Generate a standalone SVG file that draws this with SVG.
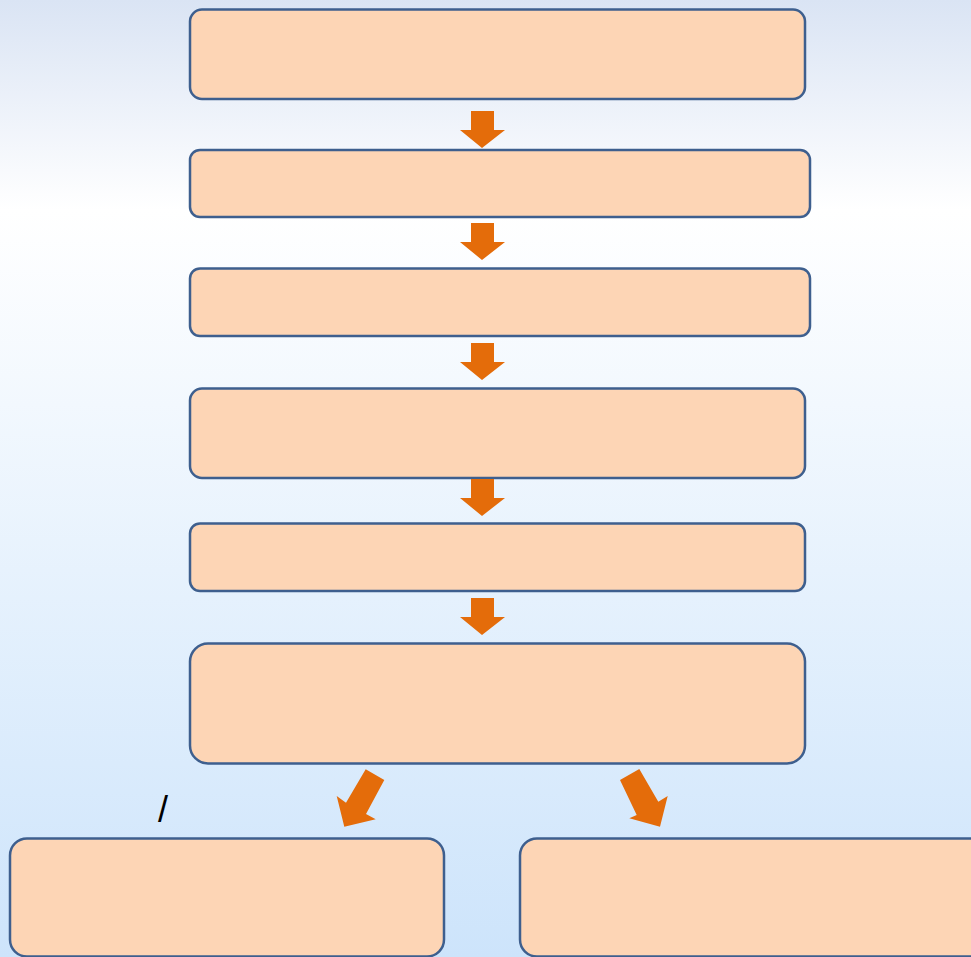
<svg xmlns="http://www.w3.org/2000/svg" width="971" height="957" viewBox="0 0 971 957">
  <defs>
    <linearGradient id="bg" x1="0" y1="0" x2="0" y2="1">
      <stop offset="0" stop-color="#dae4f4"/>
      <stop offset="0.22" stop-color="#ffffff"/>
      <stop offset="1" stop-color="#cde4fb"/>
    </linearGradient>
    <path id="down" d="M471,111 H494 V130 H505 L482,148 L460,130 H471 Z"/>
  </defs>
  <style>
    .box { fill: #fdd5b5; stroke: #3e5f8e; stroke-width: 2.5; }
    .arr { fill: #e46c0a; }
    .lbl { font-family: "Liberation Sans", Arial, sans-serif; font-size: 36px; fill: #000; }
  </style>
  <rect x="0" y="0" width="971" height="957" fill="url(#bg)"/>
  <g id="node1"><rect class="box" x="190" y="9.5" width="615" height="89.5" rx="12"/></g>
  <g id="node2"><rect class="box" x="190" y="150" width="620" height="67" rx="10"/></g>
  <g id="node3"><rect class="box" x="190" y="268.5" width="620" height="67.5" rx="10"/></g>
  <g id="node4"><rect class="box" x="190" y="388.5" width="615" height="89.5" rx="12"/></g>
  <g id="node5"><rect class="box" x="190" y="523.5" width="615" height="67.5" rx="10"/></g>
  <g id="node6"><rect class="box" x="190" y="643.5" width="615" height="120" rx="18"/></g>
  <g id="node7"><rect class="box" x="10" y="838.5" width="434" height="118" rx="17"/></g>
  <g id="node8"><rect class="box" x="520" y="838.5" width="470" height="118" rx="17"/></g>
  <g id="connectors">
    <use href="#down" class="arr"/>
    <use href="#down" class="arr" transform="translate(0,112)"/>
    <use href="#down" class="arr" transform="translate(0,232)"/>
    <use href="#down" class="arr" transform="translate(0,368)"/>
    <use href="#down" class="arr" transform="translate(0,487)"/>
    <path class="arr" d="M365.7,769.3 L384.3,780 L366,814 L375.7,819.3 L344.3,826.7 L336.7,796 L346,802.7 Z"/>
    <path class="arr" d="M639.3,769 L620,780 L636.7,815 L629.3,818.3 L660,826.7 L667.7,796 L658.3,801.7 Z"/>
  </g>
  <text class="lbl" x="158" y="822">/</text>
</svg>
